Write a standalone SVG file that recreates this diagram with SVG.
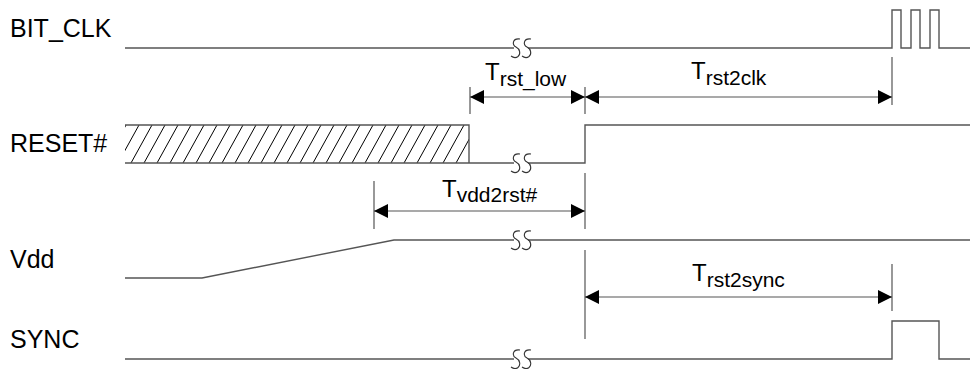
<svg xmlns="http://www.w3.org/2000/svg" width="970" height="369" viewBox="0 0 970 369">
<defs>
<style>
.sig{fill:none;stroke:#555;stroke-width:1.4}
.dim{fill:none;stroke:#555;stroke-width:1.2}
.hat{fill:none;stroke:#000;stroke-width:1}
.lbl{font-family:"Liberation Sans",Arial,sans-serif;font-size:25px;fill:#000}
.t{font-family:"Liberation Sans",Arial,sans-serif;font-size:24px;fill:#000}
.sub{font-size:21px}
.brk{fill:none;stroke:#333;stroke-width:1.1}
</style>
<marker id="ah" viewBox="0 0 14 14" refX="14" refY="7" markerWidth="14" markerHeight="14" markerUnits="userSpaceOnUse" orient="auto-start-reverse">
<path d="M0,0 L14,7 L0,14 Z" fill="#000"/>
</marker>
<clipPath id="hc"><rect x="125" y="125" width="344" height="38"/></clipPath>
<g id="brkSym">
<rect x="-7" y="-3" width="14" height="6" fill="#fff"/>
<path class="brk" d="M-1,-9 C-9,-10 -9,-3 -5,-1 C-1,1 0,6 -3,8.5 C-5,10 -8,9.5 -10,8"/>
<path class="brk" d="M10,-9 C2,-10 2,-3 6,-1 C10,1 11,6 8,8.5 C6,10 3,9.5 1,8"/>
</g>
</defs>
<g id="labels">
<text class="lbl" x="10" y="37">BIT_CLK</text>
<text class="lbl" x="10" y="152">RESET#</text>
<text class="lbl" x="10" y="268">Vdd</text>
<text class="lbl" x="10" y="348">SYNC</text>
</g>
<g id="bit_clk">
<path class="sig" d="M125,48 H892 V10 H901 V48 H911 V10 H920 V48 H930 V10 H939 V48 H970"/>
<use href="#brkSym" x="521" y="48"/>
</g>
<g id="reset">
<g clip-path="url(#hc)">
<path class="hat" d="M105,163 l21,-38 M118,163 l21,-38 M131,163 l21,-38 M144,163 l21,-38 M157,163 l21,-38 M170,163 l21,-38 M183,163 l21,-38 M196,163 l21,-38 M209,163 l21,-38 M222,163 l21,-38 M235,163 l21,-38 M248,163 l21,-38 M261,163 l21,-38 M274,163 l21,-38 M287,163 l21,-38 M300,163 l21,-38 M313,163 l21,-38 M326,163 l21,-38 M339,163 l21,-38 M352,163 l21,-38 M365,163 l21,-38 M378,163 l21,-38 M391,163 l21,-38 M404,163 l21,-38 M417,163 l21,-38 M430,163 l21,-38 M443,163 l21,-38 M456,163 l21,-38"/>
</g>
<path class="sig" d="M125,125 H469 V163"/>
<path class="sig" d="M125,163 H585 V125 H970"/>
<use href="#brkSym" x="521" y="163"/>
</g>
<g id="vdd">
<path class="sig" d="M125,278 H202 L394,240 H970"/>
<use href="#brkSym" x="521" y="240"/>
</g>
<g id="sync">
<path class="sig" d="M125,359 H892 V321 H939 V359 H970" stroke="#222"/>
<use href="#brkSym" x="521" y="359"/>
</g>
<g id="connectors">
<path class="dim" d="M470,87 V114 M585,87 V114 M892,57 V105 M374,181 V229 M585,173 V229 M585,250 V339 M892,264 V311"/>
<path class="dim" d="M470,97 H585" marker-start="url(#ah)" marker-end="url(#ah)"/>
<path class="dim" d="M585,97 H892" marker-start="url(#ah)" marker-end="url(#ah)"/>
<path class="dim" d="M374,211 H585" marker-start="url(#ah)" marker-end="url(#ah)"/>
<path class="dim" d="M585,297 H892" marker-start="url(#ah)" marker-end="url(#ah)"/>
</g>
<g id="dim_labels">
<text class="t" x="485" y="80">T<tspan class="sub" dy="6">rst_low</tspan></text>
<text class="t" x="691" y="78.5">T<tspan class="sub" dy="6">rst2clk</tspan></text>
<text class="t" x="442" y="197">T<tspan class="sub" dy="5">vdd2rst#</tspan></text>
<text class="t" x="692" y="281">T<tspan class="sub" dy="6">rst2sync</tspan></text>
</g>
</svg>
